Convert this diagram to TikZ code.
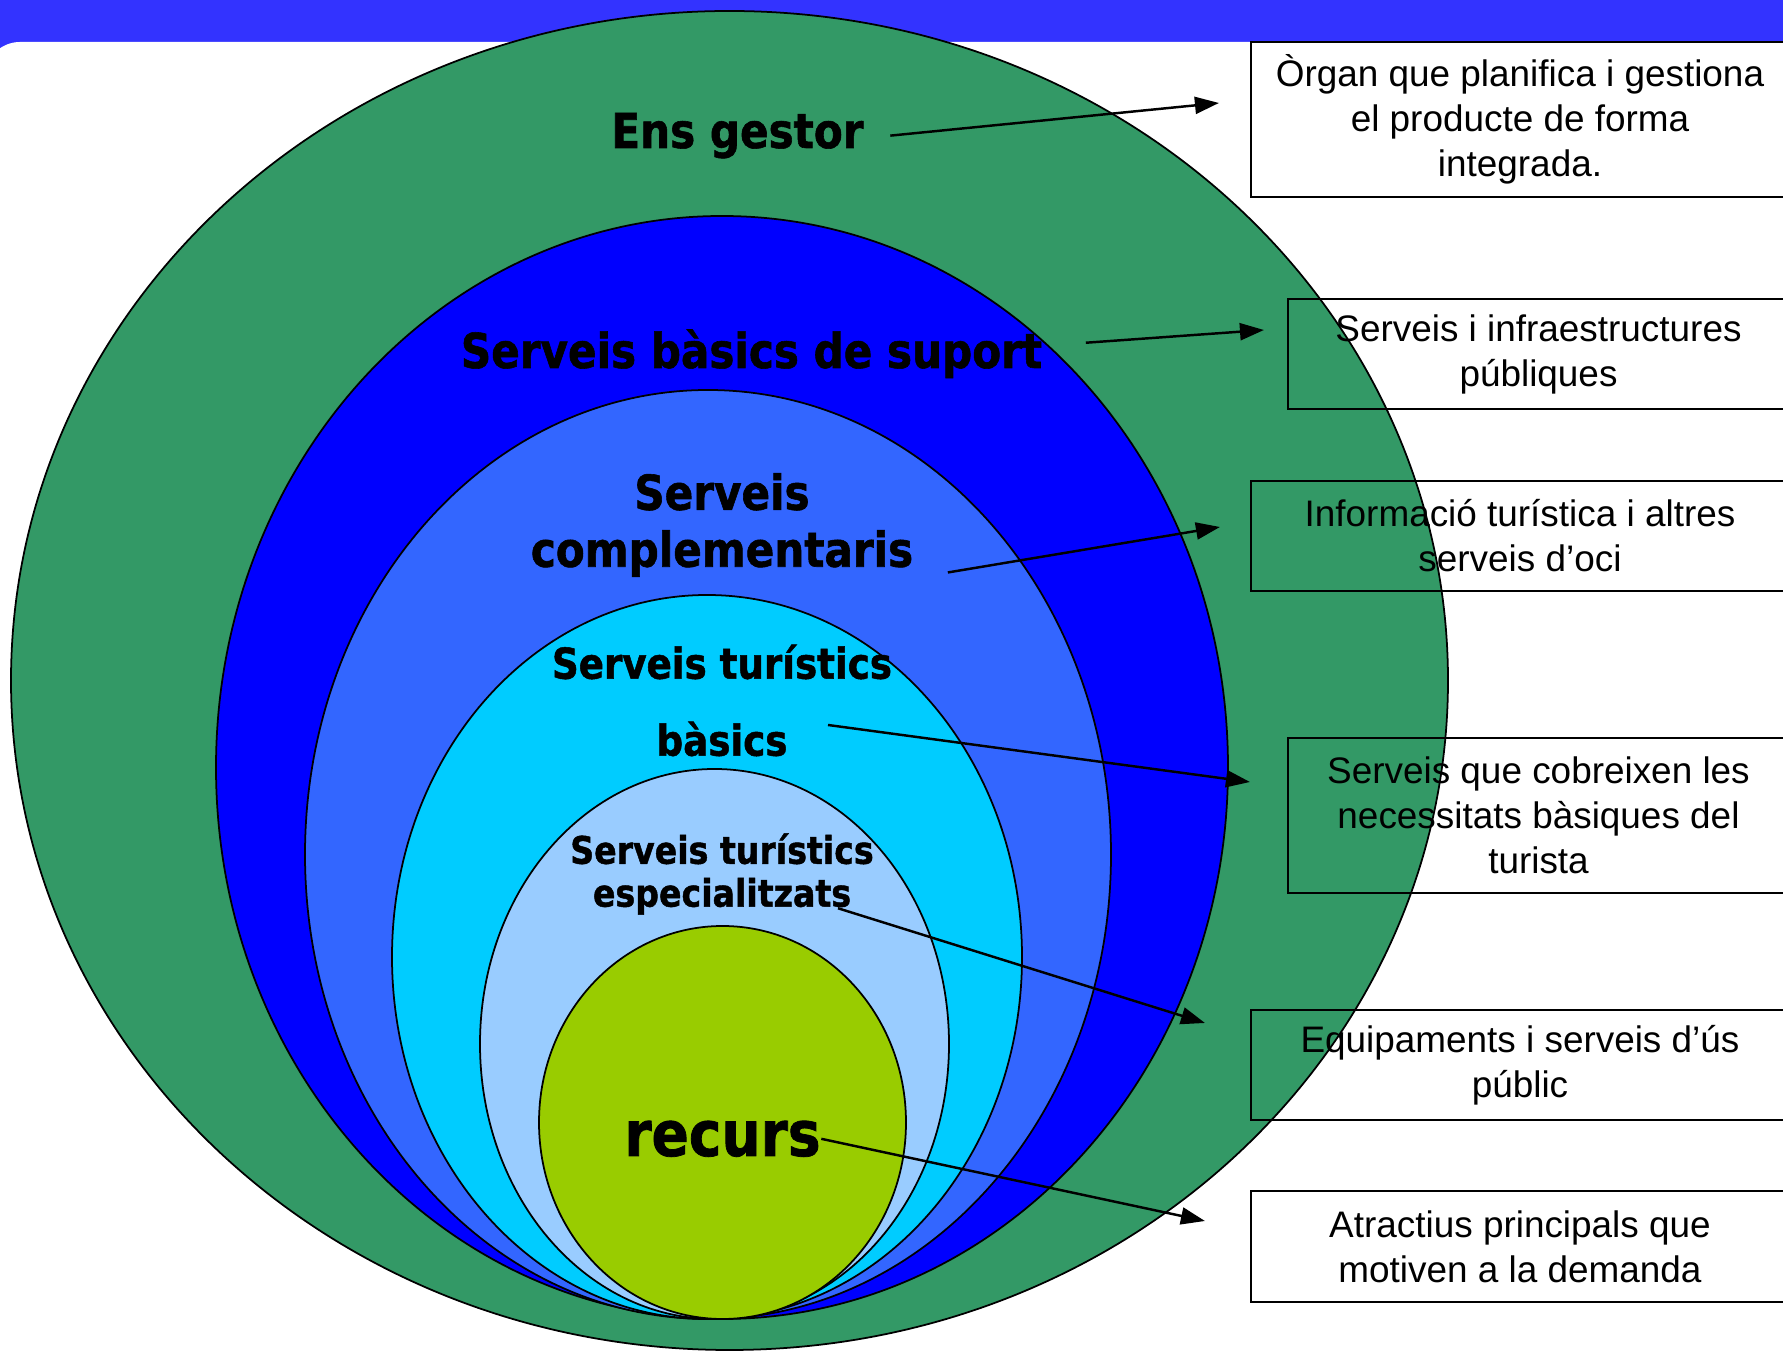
\documentclass[tikz,border=0pt]{standalone}
\usepackage{fontspec}
\setmainfont{Liberation Sans}
\newfontfamily\lblfont{DejaVu Sans}[FakeStretch=0.875, BoldFeatures={FakeBold=1.2}]
\usetikzlibrary{arrows.meta}
\definecolor{bandblue}{RGB}{51,51,255}
\definecolor{gestor}{RGB}{51,153,102}
\definecolor{suport}{RGB}{0,0,255}
\definecolor{complement}{RGB}{51,102,255}
\definecolor{basic}{RGB}{0,204,255}
\definecolor{special}{RGB}{153,204,255}
\definecolor{recurs}{RGB}{153,204,0}

\begin{document}
\begin{tikzpicture}[
    ring/.style={draw=black, line width=0.5pt},
    lbl/.style 2 args={inner sep=0pt, align=center, font=\lblfont\bfseries\fontsize{#1}{#2}\selectfont},
    infobox/.style={draw, line width=0.6pt, align=center, inner sep=0pt,
        font=\fontsize{10.5}{12.8}\selectfont},
    arrow/.style={-{Triangle[length=2.4mm, width=1.7mm]}, line width=0.7pt}
]
    \useasboundingbox (0,0) rectangle (17.83,-13.52);

    % Slide background
    \fill[bandblue] (0,0) rectangle (17.83,-0.8);
    \fill[white, rounded corners=3.5mm] (-0.15,-0.42) rectangle (18.2,-14);

    % Nested rings, outer to inner
    \draw[ring, fill=gestor] (7.295,-6.805) ellipse (7.185 and 6.695);
    \draw[ring, fill=suport] (7.22,-7.675) ellipse (5.06 and 5.515);
    \draw[ring, fill=complement] (7.08,-8.545) ellipse (4.03 and 4.645);
    \draw[ring, fill=basic] (7.07,-9.57) ellipse (3.15 and 3.62);
    \draw[ring, fill=special] (7.145,-10.44) ellipse (2.345 and 2.75);
    \draw[ring, fill=recurs] (7.225,-11.225) ellipse (1.835 and 1.965);

    % Ring labels
    \node[lbl={13.7}{16.2}, anchor=base] (ens) at (7.375,-1.48) {Ens gestor};
    \node[lbl={13.7}{16.2}, anchor=base] (sup) at (7.515,-3.68) {Serveis bàsics de suport};
    \node[lbl={13.7}{16.2}] (cmp) at (7.22,-5.25) {Serveis\\complementaris};
    \node[lbl={12.1}{21.9}] (tb) at (7.22,-7.005) {Serveis turístics\\bàsics};
    \node[lbl={10.8}{12.2}] (te) at (7.22,-8.74) {Serveis turístics\\especialitzats};
    \node[lbl={17.9}{21}, anchor=base] (rec) at (7.225,-11.56) {recurs};

    % Description boxes
    \node[infobox, minimum width=5.38cm, minimum height=1.55cm] (org) at (15.20,-1.195)
        {Òrgan que planifica i gestiona\\el producte de forma\\integrada.};
    \node[infobox, minimum width=5.01cm, minimum height=1.10cm] (infra) at (15.385,-3.54)
        {Serveis i infraestructures\\públiques};
    \node[infobox, minimum width=5.38cm, minimum height=1.10cm] (info) at (15.20,-5.36)
        {Informació turística i altres\\serveis d’oci};
    \node[infobox, minimum width=5.01cm, minimum height=1.55cm] (need) at (15.385,-8.155)
        {Serveis que cobreixen les\\necessitats bàsiques del\\turista};
    \node[infobox, minimum width=5.38cm, minimum height=1.10cm] (equip) at (15.20,-10.65)
        {Equipaments i serveis d’ús\\públic};
    \node[infobox, minimum width=5.38cm, minimum height=1.11cm] (attr) at (15.20,-12.465)
        {Atractius principals que\\motiven a la demanda};

    % Arrows
    \draw[arrow] ([xshift=2.6mm]ens.east) -- ([xshift=-3.1mm,yshift=1.65mm]org.west);
    \draw[arrow] ([xshift=4.3mm,yshift=1.1mm]sup.east) -- ([xshift=-2.3mm,yshift=2.4mm]infra.west);
    \draw[arrow] ([xshift=3.4mm,yshift=0.5mm]cmp.south east) -- ([xshift=-3mm,yshift=0.9mm]info.west);
    \draw[arrow] ([xshift=10.6mm,yshift=3.2mm]tb.south) -- ([xshift=-3.7mm,yshift=3.35mm]need.west);
    \draw[arrow] ([xshift=11.6mm,yshift=0.7mm]te.south) -- ([xshift=-4.5mm,yshift=4.2mm]equip.west);
    \draw[arrow] (rec.east) -- ([xshift=-4.5mm,yshift=2.55mm]attr.west);
\end{tikzpicture}
\end{document}
